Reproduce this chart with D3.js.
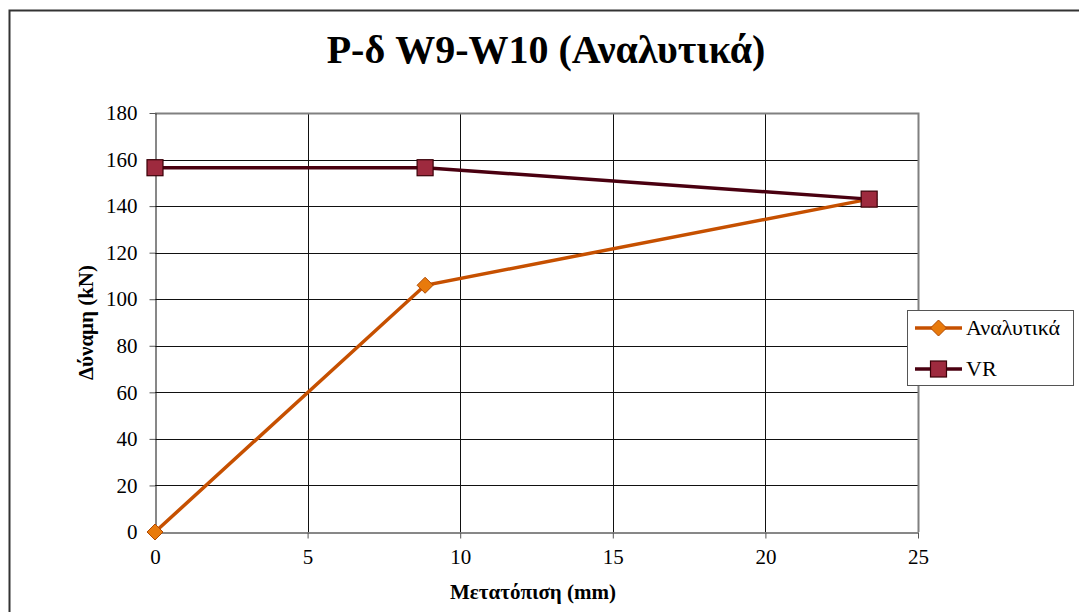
<!DOCTYPE html>
<html>
<head>
<meta charset="utf-8">
<script src="https://cdn.jsdelivr.net/npm/d3@7"></script>
<style>
  body { margin: 0; background: #fff; }
  svg text { font-family: "Liberation Serif", "Times New Roman", serif !important; }
</style>
</head>
<body>
<div id="chart"></div>
<script>
const xTicks = [0, 5, 10, 15, 20, 25];
const yTicks = [0, 20, 40, 60, 80, 100, 120, 140, 160, 180];
const seriesNames = ['Αναλυτικά', 'VR'];
const analytX = [0, 8.85, 23.4];
const analytY = [0, 106, 143];
const vrX = [0, 8.85, 23.4];
const vrY = [156.5, 156.5, 143];

const width = 1079, height = 612;
const plot = { left: 155, right: 918, top: 113, bottom: 532 };

const svg = d3.select('#chart').append('svg')
  .attr('width', width)
  .attr('height', height);

// outer chart frame (runs off the right and bottom edges)
svg.append('rect')
  .attr('x', 9.5).attr('y', 10.5)
  .attr('width', width + 20).attr('height', height + 20)
  .attr('fill', '#fff')
  .attr('stroke', '#333')
  .attr('stroke-width', 2);

const x = d3.scaleLinear().domain([0, 25]).range([plot.left, plot.right]);
const y = d3.scaleLinear().domain([0, 180]).range([plot.bottom, plot.top]);

// gridlines
svg.append('g')
  .selectAll('line')
  .data(yTicks.filter(d => d > 0 && d < 180))
  .enter().append('line')
  .attr('x1', plot.left).attr('x2', plot.right)
  .attr('y1', d => Math.round(y(d)) + 0.5).attr('y2', d => Math.round(y(d)) + 0.5)
  .attr('stroke', '#111').attr('stroke-width', 1);

svg.append('g')
  .selectAll('line')
  .data(xTicks.filter(d => d > 0 && d < 25))
  .enter().append('line')
  .attr('y1', plot.top).attr('y2', plot.bottom)
  .attr('x1', d => Math.round(x(d)) + 0.5).attr('x2', d => Math.round(x(d)) + 0.5)
  .attr('stroke', '#111').attr('stroke-width', 1);

// plot area border (top and right)
svg.append('path')
  .attr('d', `M${plot.left},${plot.top + 0.5}H${plot.right + 0.5}V${plot.bottom}`)
  .attr('fill', 'none')
  .attr('stroke', '#808080')
  .attr('stroke-width', 2);

// axes
const xAxis = svg.append('g')
  .attr('transform', `translate(0,${plot.bottom + 0.5})`)
  .call(d3.axisBottom(x).tickValues(xTicks).tickSize(6).tickPadding(8).tickSizeOuter(0));
const yAxis = svg.append('g')
  .attr('transform', `translate(${plot.left + 0.5},0)`)
  .call(d3.axisLeft(y).tickValues(yTicks).tickSize(6).tickPadding(12).tickSizeOuter(0));

[xAxis, yAxis].forEach(a => {
  a.attr('font-family', null).attr('font-size', 21);
  a.select('.domain').attr('stroke', '#111');
  a.selectAll('.tick line').attr('stroke', '#555');
  a.selectAll('.tick text').attr('fill', '#000');
});
xAxis.selectAll('.tick text').attr('dy', '0.85em');

// title
svg.append('text')
  .attr('x', 546).attr('y', 63)
  .attr('text-anchor', 'middle')
  .attr('font-size', 40)
  .attr('font-weight', 'bold')
  .text('P-δ W9-W10 (Αναλυτικά)');

// axis titles
svg.append('text')
  .attr('x', 533).attr('y', 599)
  .attr('text-anchor', 'middle')
  .attr('font-size', 21)
  .attr('font-weight', 'bold')
  .text('Μετατόπιση (mm)');

svg.append('text')
  .attr('transform', `translate(93,${(plot.top + plot.bottom) / 2}) rotate(-90)`)
  .attr('text-anchor', 'middle')
  .attr('font-size', 21)
  .attr('font-weight', 'bold')
  .text('Δύναμη (kN)');

const line = d3.line().x(d => x(d[0])).y(d => y(d[1]));

const analyt = analytX.map((d, i) => [d, analytY[i]]);
const vr = vrX.map((d, i) => [d, vrY[i]]);

const styles = [
  { data: analyt, line: '#C65000', fill: '#E87A0C', stroke: '#B04800', shape: 'diamond' },
  { data: vr, line: '#4A0010', fill: '#9E2A3E', stroke: '#3A0008', shape: 'square' }
];

function marker(g, shape, fill, stroke, cx, cy) {
  if (shape === 'diamond') {
    g.append('path')
      .attr('d', `M${cx},${cy - 8}L${cx + 8},${cy}L${cx},${cy + 8}L${cx - 8},${cy}Z`)
      .attr('fill', fill).attr('stroke', stroke).attr('stroke-width', 1);
  } else {
    g.append('rect')
      .attr('x', cx - 8).attr('y', cy - 8)
      .attr('width', 16).attr('height', 16)
      .attr('fill', fill).attr('stroke', stroke).attr('stroke-width', 1.2);
  }
}

styles.forEach(s => {
  svg.append('path')
    .datum(s.data)
    .attr('d', line)
    .attr('fill', 'none')
    .attr('stroke', s.line)
    .attr('stroke-width', 3.5);
});
styles.forEach(s => {
  const g = svg.append('g');
  s.data.forEach(d => marker(g, s.shape, s.fill, s.stroke, x(d[0]), y(d[1])));
});

// legend
const lg = svg.append('g');
lg.append('rect')
  .attr('x', 907.5).attr('y', 310.5)
  .attr('width', 166).attr('height', 75)
  .attr('fill', '#fff')
  .attr('stroke', '#555').attr('stroke-width', 1);

styles.forEach((s, i) => {
  const ly = 328 + i * 41;
  lg.append('line')
    .attr('x1', 915).attr('x2', 962)
    .attr('y1', ly).attr('y2', ly)
    .attr('stroke', s.line).attr('stroke-width', 3.5);
  marker(lg, s.shape, s.fill, s.stroke, 938.5, ly);
  lg.append('text')
    .attr('x', 966).attr('y', ly + 7)
    .attr('font-size', 22)
    .text(seriesNames[i]);
});
</script>
</body>
</html>
